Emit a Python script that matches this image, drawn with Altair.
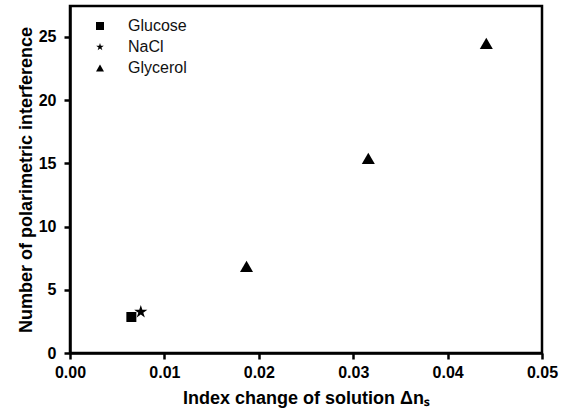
import altair as alt
import pandas as pd

series = ["Glucose", "NaCl", "Glycerol", "Glycerol", "Glycerol"]
dn = [0.0065, 0.0075, 0.0187, 0.0316, 0.0441]
count = [2.85, 3.25, 6.85, 15.4, 24.5]

df = pd.DataFrame({"series": series, "dn": dn, "count": count})

order = ["Glucose", "NaCl", "Glycerol"]
sizes = [100, 190, 170]
star = ("M0,-1L0.2245,-0.309L0.951,-0.309L0.363,0.118L0.588,0.809L0,0.382"
        "L-0.588,0.809L-0.363,0.118L-0.951,-0.309L-0.2245,-0.309Z")

x_enc = alt.X("dn:Q", scale=alt.Scale(domain=[0, 0.05], nice=False),
              axis=alt.Axis(title="Index change of solution Δnₛ", values=[0, 0.01, 0.02, 0.03, 0.04, 0.05],
                            format=".2f", titlePadding=9))
y_enc = alt.Y("count:Q", scale=alt.Scale(domain=[0, 27.45], nice=False),
              axis=alt.Axis(title="Number of polarimetric interference", values=[0, 5, 10, 15, 20, 25],
                            titlePadding=3, labelPadding=8))
shape_enc = alt.Shape("series:N",
                      scale=alt.Scale(domain=order, range=["square", star, "triangle-up"]),
                      legend=alt.Legend(title=None, orient="none", legendX=22, legendY=12,
                                        symbolSize=64, symbolFillColor="black", symbolStrokeColor="black",
                                        labelFontSize=16, labelFont="Liberation Sans", labelColor="#111",
                                        rowPadding=5, labelOffset=20))

layers = []
for name, sz in zip(order, sizes):
    layers.append(
        alt.Chart(df).transform_filter(alt.datum.series == name)
        .mark_point(filled=True, color="black", opacity=1, size=sz)
        .encode(x=x_enc, y=y_enc, shape=shape_enc)
    )

chart = alt.layer(*layers).properties(
    width=472, height=347,
    autosize=alt.AutoSizeParams(type="none"),
    padding={"left": 70, "top": 6, "right": 25, "bottom": 66},
).configure_view(
    stroke="black", strokeWidth=2.5
).configure_axis(
    grid=False, domainColor="black", domainWidth=2.5, tickColor="black", tickWidth=2.5, tickSize=6,
    labelFont="Liberation Sans", labelFontWeight="bold", labelFontSize=16, labelColor="black",
    titleFont="Liberation Sans", titleFontWeight="bold", titleFontSize=18, titleColor="black",
    labelPadding=5, labelFlush=False,
)

chart.save("out.html", embed_options={"renderer": "svg", "actions": False})
